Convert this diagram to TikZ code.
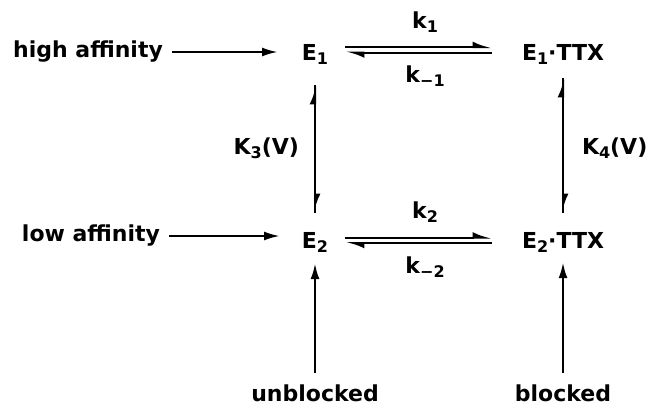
\documentclass[tikz,border=0pt]{standalone}
\usepackage{fontspec}
\setmainfont{DejaVu Sans}
\usetikzlibrary{arrows.meta}
\newcommand{\lowsub}[1]{\raisebox{-4pt}{\fontsize{16}{16}\selectfont #1}}
\tikzset{
    stateNode/.style={
        inner sep=1pt,
        text height=16pt,
        text depth=5pt,
        font=\fontsize{22}{24}\selectfont\bfseries
    },
    rateNode/.style={stateNode},
    bottomNode/.style={stateNode, text depth=0pt},
    feedArrow/.style={-{Latex[length=16pt, width=9pt]}, line width=2.4pt},
    harpArrow/.style={-{Latex[left, length=15pt, width=11pt]}, line width=2pt}
}

\begin{document}
\begin{tikzpicture}[x=1pt, y=-1pt]
            \useasboundingbox (0,0) rectangle (655,407);

            % States
            \node[stateNode] (E1) at (315,55) {E\lowsub{1}};
            \node[stateNode] (E1T) at (563,55) {E\lowsub{1}·TTX};
            \node[stateNode] (E2) at (315,243) {E\lowsub{2}};
            \node[stateNode] (E2T) at (563,243) {E\lowsub{2}·TTX};

            % Side labels
            \node[stateNode] (high) at (88,52) {high affinity};
            \node[stateNode] (low) at (91,236) {low affinity};
            \node[bottomNode] (unblocked) at (315,393) {unblocked};
            \node[bottomNode] (blocked) at (563,393) {blocked};

            % Feed arrows
            \draw[feedArrow, shorten <=8pt, shorten >=37pt] (high) -- (high -| E1);
            \draw[feedArrow, shorten <=8pt, shorten >=35pt] (low) -- (low -| E2);
            \draw[feedArrow, shorten <=11pt, shorten >=8.5pt] (unblocked) -- (E2);
            \draw[feedArrow, shorten <=11pt, shorten >=7.5pt] (blocked) -- (E2T);

            % Binding equilibria
            \draw[harpArrow, shorten <=16pt, shorten >=29pt] ([yshift=8pt]E1.east) -- ([yshift=8pt]E1T.west)
                node[rateNode, midway, above=12pt] {k\lowsub{1}};
            \draw[harpArrow, shorten <=29pt, shorten >=16pt] ([yshift=2.5pt]E1T.west) -- ([yshift=2.5pt]E1.east)
                node[rateNode, midway, below=12pt] {k\lowsub{−1}};
            \draw[harpArrow, shorten <=16pt, shorten >=29pt] ([yshift=5.5pt]E2.east) -- ([yshift=5.5pt]E2T.west)
                node[rateNode, midway, above=12pt] {k\lowsub{2}};
            \draw[harpArrow, shorten <=29pt, shorten >=16pt] ([yshift=0pt]E2T.west) -- ([yshift=0pt]E2.east)
                node[rateNode, midway, below=12pt] {k\lowsub{−2}};

            % Affinity equilibria
            \draw[harpArrow, shorten <=18.5pt, shorten >=18.5pt] (E1) -- (E2)
                node[rateNode, midway, left=14pt] {K\lowsub{3}(V)};
            \draw[harpArrow, shorten <=18.5pt, shorten >=18.5pt] (E2) -- (E1);
            \draw[harpArrow, shorten <=11.5pt, shorten >=18.5pt] (E1T) -- (E2T)
                node[rateNode, midway, right=17pt] {K\lowsub{4}(V)};
            \draw[harpArrow, shorten <=18.5pt, shorten >=11.5pt] (E2T) -- (E1T);
        \end{tikzpicture}
\end{document}
